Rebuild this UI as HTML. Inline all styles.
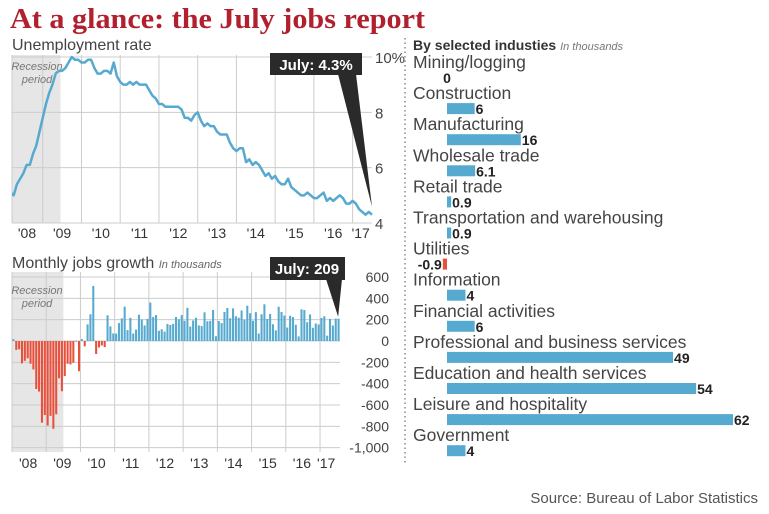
<!DOCTYPE html>
<html><head><meta charset="utf-8"><style>
body{margin:0;background:#fff;width:769px;height:514px;overflow:hidden}
svg{display:block;font-family:"Liberation Sans",sans-serif}
</style></head><body>
<svg width="769" height="514" viewBox="0 0 769 514">
<defs><clipPath id="tclip"><rect x="12" y="40" width="370" height="200"/></clipPath></defs>
<text x="10" y="28" font-family="Liberation Serif,serif" font-weight="bold" font-size="28" fill="#b0202e" textLength="415" lengthAdjust="spacingAndGlyphs">At a glance: the July jobs report</text>
<text x="12" y="50" font-size="16" fill="#444">Unemployment rate</text>
<text x="12" y="268" font-size="16" fill="#444">Monthly jobs growth <tspan font-size="11" font-style="italic" fill="#666">In thousands</tspan></text>
<g id="gtop"></g>
<g id="gbot"></g>
<line x1="405" y1="38" x2="405" y2="464" stroke="#888" stroke-width="1.5" stroke-dasharray="1.5,3"/>
<text x="413" y="50" font-size="14" font-weight="bold" fill="#333">By selected industies <tspan font-size="11" font-weight="normal" font-style="italic" fill="#777">In thousands</tspan></text>
<g id="gind"></g>
<text x="758" y="503" font-size="15" fill="#555" text-anchor="end">Source: Bureau of Labor Statistics</text>
</svg>
<script>
const rate=[5.0,4.9,5.1,5.0,5.4,5.6,5.8,6.1,6.1,6.5,6.8,7.3,7.8,8.3,8.7,9.0,9.4,9.5,9.5,9.6,9.8,10.0,9.9,9.9,9.8,9.8,9.9,9.9,9.6,9.4,9.4,9.5,9.5,9.4,9.8,9.3,9.1,9.0,9.0,9.1,9.0,9.1,9.0,9.0,9.0,8.8,8.6,8.5,8.3,8.3,8.2,8.2,8.2,8.2,8.2,8.1,7.8,7.8,7.7,7.9,8.0,7.7,7.5,7.6,7.5,7.5,7.3,7.2,7.2,7.2,6.9,6.7,6.6,6.7,6.7,6.2,6.3,6.1,6.2,6.1,5.9,5.7,5.8,5.6,5.7,5.5,5.4,5.4,5.6,5.3,5.2,5.1,5.0,5.0,5.1,5.0,4.9,4.9,5.0,5.1,4.8,4.9,4.8,4.9,5.0,4.9,4.7,4.7,4.8,4.7,4.5,4.4,4.3,4.4,4.3];
const jobs=[17,-84,-78,-210,-186,-162,-213,-267,-450,-474,-766,-694,-793,-702,-823,-687,-349,-471,-329,-213,-220,-204,2,-283,18,-50,156,251,516,-122,-61,-42,-57,241,137,71,70,168,212,322,102,217,70,107,246,202,146,207,360,226,243,96,110,88,160,150,161,225,203,243,190,311,135,192,218,146,140,269,185,189,291,45,187,168,272,310,213,306,232,218,286,200,331,261,190,271,70,251,344,206,254,157,100,321,272,239,126,237,225,153,43,297,291,176,249,124,164,155,216,232,50,207,145,210,209];
const yearLabels=["'08","'09","'10","'11","'12","'13","'14","'15","'16","'17"];
const rateTicks=[4,6,8,10];
const jobTicks=[600,400,200,0,-200,-400,-600,-800,-1000];
const industries=["Mining/logging","Construction","Manufacturing","Wholesale trade","Retail trade","Transportation and warehousing","Utilities","Information","Financial activities","Professional and business services","Education and health services","Leisure and hospitality","Government"];
const indValues=[0,6,16,6.1,0.9,0.9,-0.9,4,6,49,54,62,4];
const indLabels=["0","6","16","6.1","0.9","0.9","-0.9","4","6","49","54","62","4"];
const NS="http://www.w3.org/2000/svg";
function mk(p,t,a){const e=document.createElementNS(NS,t);for(const k in a)e.setAttribute(k,a[k]);p.appendChild(e);return e;}
const BLUE="#56a9cf",RED="#e8503c";
// top chart
const gTop=document.getElementById('gtop');
const tx=i=>4+i*(368/114), ty=v=>223-(v-4)*(166/6);
const labPos=k=>k===9?k*12+2.5:k*12+6;
const rec=mk(gTop,'rect',{x:12,y:55,width:tx(17.5)-12,height:168,fill:"#e6e6e6"});


rateTicks.forEach(v=>{const l=mk(gTop,'line',{x1:12,x2:372,y1:ty(v),y2:ty(v),stroke:"#ccc"});


const t=mk(gTop,'text',{x:375,y:ty(v)+6,"font-size":15,fill:"#444"});t.textContent=v+(v==10?"%":"");

});
mk(gTop,'line',{x1:12,x2:12,y1:55,y2:223,stroke:"#ccc"});
yearLabels.forEach((s,k)=>{if(k>0){const l=mk(gTop,'line',{x1:tx(k*12),x2:tx(k*12),y1:55,y2:223,stroke:"#ccc"});

}
const t=mk(gTop,'text',{x:Math.max(27,tx(labPos(k))),y:238,"font-size":14,fill:"#333","text-anchor":"middle"});t.textContent=s;

});
let rt=mk(gTop,'text',{x:37,y:70,"font-size":11,"font-style":"italic",fill:"#777","text-anchor":"middle"});rt.innerHTML='<tspan x="37">Recession</tspan><tspan x="37" dy="13">period</tspan>';


const rl=mk(gTop,'polyline',{points:rate.map((v,i)=>tx(i)+","+ty(v)).join(" "),fill:"none",stroke:BLUE,"stroke-width":2.5,"stroke-linejoin":"round","clip-path":"url(#tclip)"});


const li=rate.length-1;
const p1=mk(gTop,'polygon',{points:`338,74 356,74 ${tx(li)},${ty(rate[li])-8}`,fill:"#2a2a2a"});


const b1=mk(gTop,'rect',{x:270,y:53,width:92,height:22,fill:"#2a2a2a"});


let c1=mk(gTop,'text',{x:316,y:70,"font-size":15,"font-weight":"bold",fill:"#fff","text-anchor":"middle"});c1.textContent="July: "+rate[li]+"%";


// bottom chart
const gBot=document.getElementById('gbot');
const bw=328/115, bx=i=>12+i*bw, by=v=>341-v*(21.33/200);
const rec2=mk(gBot,'rect',{x:12,y:272,width:bx(18)-12,height:180,fill:"#e6e6e6"});


jobTicks.forEach(v=>{const l=mk(gBot,'line',{x1:12,x2:340,y1:by(v),y2:by(v),stroke:"#ccc"});


const t=mk(gBot,'text',{x:389,y:by(v)+5,"font-size":14,fill:"#444","text-anchor":"end"});t.textContent=v.toLocaleString('en-US');

});
mk(gBot,'line',{x1:12,x2:12,y1:272,y2:452,stroke:"#ccc"});
yearLabels.forEach((s,k)=>{if(k>0){const l=mk(gBot,'line',{x1:bx(k*12),x2:bx(k*12),y1:272,y2:452,stroke:"#ccc"});

}
const t=mk(gBot,'text',{x:bx(labPos(k))-1,y:468,"font-size":14,fill:"#333","text-anchor":"middle"});t.textContent=s;

});
let rt2=mk(gBot,'text',{x:37,y:294,"font-size":11,"font-style":"italic",fill:"#777","text-anchor":"middle"});rt2.innerHTML='<tspan x="37">Recession</tspan><tspan x="37" dy="13">period</tspan>';


jobs.forEach((v,i)=>{const r=mk(gBot,'rect',{x:bx(i)+0.4,y:Math.min(by(v),by(0)),width:bw-0.8,height:Math.max(1,Math.abs(by(v)-by(0))),fill:v<0?RED:BLUE});

});
const lj=jobs.length-1;
const p2=mk(gBot,'polygon',{points:`326,279 342,279 ${bx(lj)+1},${by(jobs[lj])-2}`,fill:"#2a2a2a"});


const b2=mk(gBot,'rect',{x:270,y:257,width:75,height:23,fill:"#2a2a2a"});


let c2=mk(gBot,'text',{x:307,y:274,"font-size":15,"font-weight":"bold",fill:"#fff","text-anchor":"middle"});c2.textContent="July: "+jobs[lj];


// industries
const gInd=document.getElementById('gind');
const ix=v=>447+v*(286/62);
industries.forEach((n,k)=>{const yc=77+k*31.1;
const t=mk(gInd,'text',{x:413,y:yc-9,"font-size":17.5,fill:"#444"});t.textContent=n;


const v=indValues[k];
const r=mk(gInd,'rect',{x:Math.min(ix(v),ix(0)),y:yc-5,width:Math.abs(ix(v)-ix(0)),height:11,fill:v<0?RED:BLUE});


const vt=mk(gInd,'text',{x:v<0?ix(v)-1:ix(v)+1,y:yc+6,"font-size":14,"font-weight":"bold",fill:"#222","text-anchor":v<0?"end":"start"});vt.textContent=indLabels[k];
if(v===0){vt.setAttribute('x',ix(0));vt.setAttribute('text-anchor','middle');}

});
</script>
</body></html>
